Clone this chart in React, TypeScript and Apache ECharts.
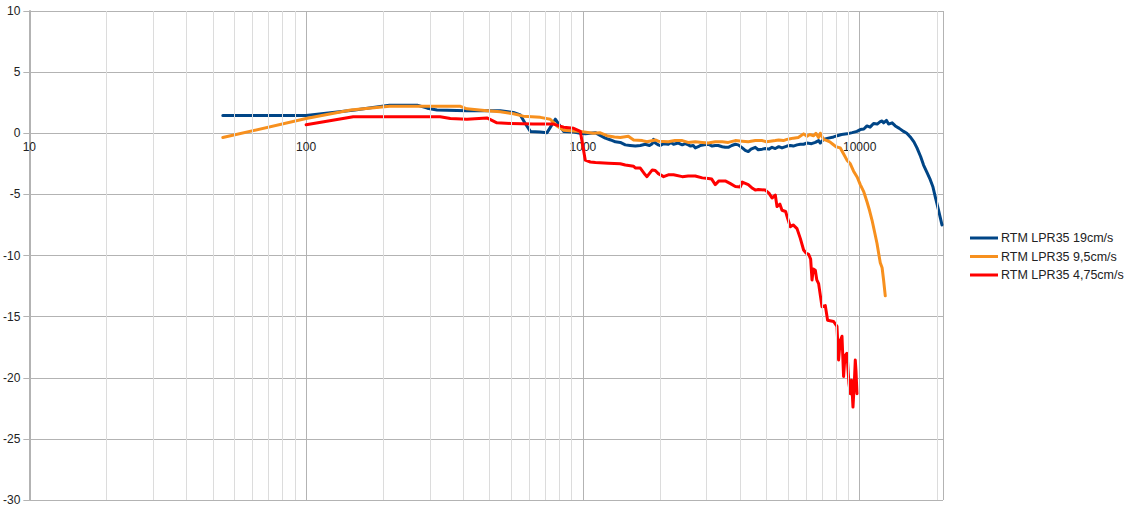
import React, { useEffect, useRef } from "react";
import * as echarts from "echarts";

// Frequencies (Hz) and levels (dB)
const blueFreq = [50, 100, 150, 200, 252, 274, 297, 381, 503, 561, 594, 619, 646, 700, 742, 795, 852, 926, 979, 1020, 1064, 1109, 1150, 1205, 1260, 1310, 1365, 1423, 1480, 1547, 1612, 1680, 1740, 1781, 1800, 1826, 1873, 1904, 1957, 2035, 2080, 2126, 2211, 2286, 2340, 2403, 2450, 2505, 2547, 2611, 2655, 2740, 2838, 2930, 3008, 3084, 3188, 3268, 3351, 3450, 3553, 3643, 3766, 3860, 3958, 4050, 4196, 4300, 4448, 4560, 4700, 4823, 4956, 5100, 5240, 5463, 5615, 5757, 5937, 6102, 6272, 6450, 6700, 6914, 7106, 7207, 7400, 7703, 8049, 8300, 8600, 9000, 9400, 9777, 10050, 10350, 10626, 10900, 11225, 11570, 11868, 12038, 12200, 12500, 12717, 13100, 13450, 13900, 14411, 14800, 15234, 15700, 16106, 16600, 17014, 17500, 17989, 18400, 18755, 19275, 19600, 19829];
const blueDb = [1.45, 1.45, 1.9, 2.3, 2.3, 2.05, 1.9, 1.85, 1.85, 1.7, 1.5, 0.8, 0.15, 0.1, 0.05, 1.15, 0.15, 0.1, 0.0, -0.05, 0.0, 0.05, -0.15, -0.4, -0.55, -0.7, -0.75, -0.95, -1.0, -1.05, -1.0, -0.9, -1.0, -0.85, -0.5, -0.8, -0.95, -1.0, -0.85, -0.9, -0.75, -0.9, -0.8, -0.95, -0.85, -0.95, -1.05, -1.0, -1.2, -1.1, -1.0, -0.95, -0.9, -1.05, -1.0, -1.0, -1.1, -1.15, -1.15, -1.0, -0.9, -0.95, -1.2, -1.4, -1.5, -1.3, -1.15, -1.35, -1.3, -1.25, -1.3, -1.15, -1.25, -1.1, -1.2, -1.05, -1.0, -1.05, -0.95, -0.9, -0.9, -0.8, -0.85, -0.75, -0.6, -0.8, -0.5, -0.4, -0.3, -0.2, -0.1, -0.05, 0.05, 0.15, 0.3, 0.35, 0.6, 0.5, 0.8, 0.75, 0.95, 1.0, 0.85, 1.05, 0.75, 0.85, 0.6, 0.4, 0.15, 0.0, -0.3, -0.7, -1.2, -1.9, -2.6, -3.2, -3.8, -4.4, -5.2, -6.3, -7.0, -7.5];

const orangeFreq = [50, 100, 145, 200, 250, 300, 361, 381, 450, 503, 561, 609, 702, 762, 806, 852, 979, 1090, 1150, 1222, 1300, 1365, 1459, 1525, 1639, 1704, 1826, 1873, 2035, 2150, 2286, 2400, 2547, 2700, 2838, 3008, 3188, 3351, 3553, 3766, 3958, 4196, 4448, 4600, 4754, 4956, 5100, 5300, 5463, 5615, 5757, 6000, 6272, 6450, 6600, 6816, 6950, 7100, 7207, 7400, 7619, 7800, 8000, 8200, 8511, 8750, 8997, 9250, 9506, 9800, 10050, 10350, 10626, 10850, 11079, 11300, 11547, 11868, 12050, 12200, 12373];
const orangeDb = [-0.35, 1.2, 1.9, 2.2, 2.2, 2.2, 2.2, 2.0, 1.85, 1.75, 1.6, 1.4, 1.3, 1.15, 0.6, 0.25, 0.15, 0.0, 0.05, -0.2, -0.3, -0.35, -0.25, -0.55, -0.6, -0.7, -0.55, -0.65, -0.7, -0.6, -0.6, -0.75, -0.7, -0.75, -0.8, -0.7, -0.7, -0.75, -0.6, -0.65, -0.7, -0.6, -0.6, -0.7, -0.65, -0.6, -0.55, -0.6, -0.5, -0.45, -0.4, -0.35, -0.05, -0.25, -0.1, -0.2, 0.0, -0.35, 0.0, -0.5, -0.6, -0.7, -0.9, -1.1, -1.2, -1.7, -2.2, -2.5, -3.1, -3.6, -4.2, -4.8, -5.6, -6.3, -7.1, -8.0, -9.0, -10.6, -11.0, -12.0, -13.3];

const redFreq = [100, 148, 200, 305, 332, 381, 450, 489, 547, 662, 782, 852, 926, 979, 1020, 1064, 1110, 1235, 1365, 1423, 1525, 1547, 1612, 1680, 1704, 1781, 1826, 1873, 1957, 2035, 2126, 2286, 2400, 2547, 2700, 2838, 2920, 3008, 3100, 3268, 3400, 3553, 3704, 3766, 3958, 4100, 4196, 4300, 4560, 4700, 4823, 4956, 5027, 5150, 5240, 5400, 5463, 5615, 5750, 5937, 6102, 6272, 6400, 6539, 6650, 6727, 6800, 6914, 7000, 7106, 7310, 7513, 7657, 8049, 8279, 8390, 8500, 8632, 8746, 8850, 8997, 9150, 9247, 9350, 9458, 9560, 9641, 9700, 9777];
const redDb = [0.7, 1.35, 1.35, 1.35, 1.2, 1.15, 1.25, 0.85, 0.8, 0.75, 0.75, 0.5, 0.4, 0.15, -2.2, -2.35, -2.4, -2.45, -2.5, -2.6, -2.7, -2.85, -2.85, -3.4, -3.55, -3.0, -3.05, -3.3, -3.55, -3.4, -3.4, -3.55, -3.5, -3.5, -3.65, -3.7, -3.75, -4.2, -3.9, -3.9, -4.1, -4.35, -4.4, -4.0, -4.2, -4.5, -4.65, -4.6, -4.65, -4.9, -5.3, -5.05, -6.0, -5.8, -6.3, -6.4, -6.8, -7.65, -7.5, -7.8, -8.6, -9.55, -9.8, -9.9, -10.3, -12.0, -11.1, -11.2, -12.0, -12.3, -14.2, -14.1, -15.3, -15.4, -15.8, -18.55, -17.0, -16.6, -19.9, -18.2, -18.0, -20.5, -21.3, -20.2, -22.4, -20.5, -18.55, -19.5, -21.3];

const seriesNames = ["RTM LPR35 19cm/s", "RTM LPR35 9,5cm/s", "RTM LPR35 4,75cm/s"];
const seriesColors = ["#004586", "#f7901e", "#ff0000"];

// Minor grid lines (LibreOffice style: 9 equal sub-steps per decade)
const minorGridFreqs = [
  19, 28, 37, 46, 55, 64, 73, 82, 91,
  190, 280, 370, 460, 550, 640, 730, 820, 910,
  1900, 2800, 3700, 4600, 5500, 6400, 7300, 8200, 9100,
  19000,
];

const yTicks = { min: -30, max: 10, interval: 5 };

function pairs(f: number[], d: number[]) {
  return f.map((v, i) => [v, d[i]]);
}

export default function App() {
  const ref = useRef<HTMLDivElement>(null);
  useEffect(() => {
    if (!ref.current) return;
    const chart = echarts.init(ref.current, undefined, { renderer: "svg" });
    const font = "'Liberation Sans', Arial, sans-serif";
    const datasets = [pairs(blueFreq, blueDb), pairs(orangeFreq, orangeDb), pairs(redFreq, redDb)];
    const gridTop = 11;
    const gridBottom = 15;
    const plotH = 515 - gridTop - gridBottom;
    // distance from bottom of plot to the y = 0 line
    const zeroOffset = (plotH * (0 - yTicks.min)) / (yTicks.max - yTicks.min);
    chart.setOption({
      animation: false,
      backgroundColor: "#ffffff",
      grid: { left: 29, right: 193, top: gridTop, bottom: gridBottom, containLabel: false },
      legend: {
        orient: "vertical",
        left: 965,
        top: 226,
        icon: "rect",
        itemWidth: 28,
        itemHeight: 3,
        itemGap: 4.5,
        padding: 5,
        data: seriesNames,
        textStyle: { fontFamily: font, fontSize: 12.5, color: "#222", lineHeight: 14, padding: [0, 0, 0, -2] },
      },
      xAxis: {
        type: "log",
        logBase: 10,
        min: 10,
        max: 20000,
        offset: -zeroOffset,
        axisLine: { show: true, onZero: false, lineStyle: { color: "#b3b3b3", width: 1 } },
        axisTick: { show: false },
        axisLabel: {
          margin: 8,
          fontFamily: font,
          fontSize: 12,
          color: "#222",
          showMaxLabel: false,
          formatter: (v: number) => {
            const l = Math.log10(v);
            return Math.abs(l - Math.round(l)) < 1e-6 ? String(Math.round(v)) : "";
          },
        },
        splitLine: { show: true, lineStyle: { color: "#b3b3b3", width: 1 } },
      },
      yAxis: {
        type: "value",
        min: yTicks.min,
        max: yTicks.max,
        interval: yTicks.interval,
        axisLine: { show: true, onZero: false, lineStyle: { color: "#b3b3b3", width: 2 } },
        axisTick: { show: true, inside: false, length: 6, lineStyle: { color: "#b3b3b3" } },
        axisLabel: { margin: 9, fontFamily: font, fontSize: 12, color: "#222" },
        splitLine: { show: true, lineStyle: { color: "#b3b3b3", width: 1 } },
      },
      series: [
        {
          name: "minor-grid",
          type: "line",
          data: [],
          z: 0,
          silent: true,
          markLine: {
            silent: true,
            symbol: ["none", "none"],
            label: { show: false },
            lineStyle: { color: "#dcdcdc", width: 1, type: "solid" },
            data: minorGridFreqs.map((f) => ({ xAxis: f })),
            animation: false,
          },
        },
        ...seriesNames.map((name, i) => ({
          name,
          type: "line",
          data: datasets[i],
          showSymbol: false,
          symbol: "none",
          z: 3,
          color: seriesColors[i],
          lineStyle: { color: seriesColors[i], width: 3, join: "round", cap: "round" },
        })),
      ],
    });
    return () => chart.dispose();
  }, []);
  return (
    <div
      ref={ref}
      style={{ position: "fixed", left: 0, top: 0, width: 1136, height: 515, background: "#fff" }}
    />
  );
}
